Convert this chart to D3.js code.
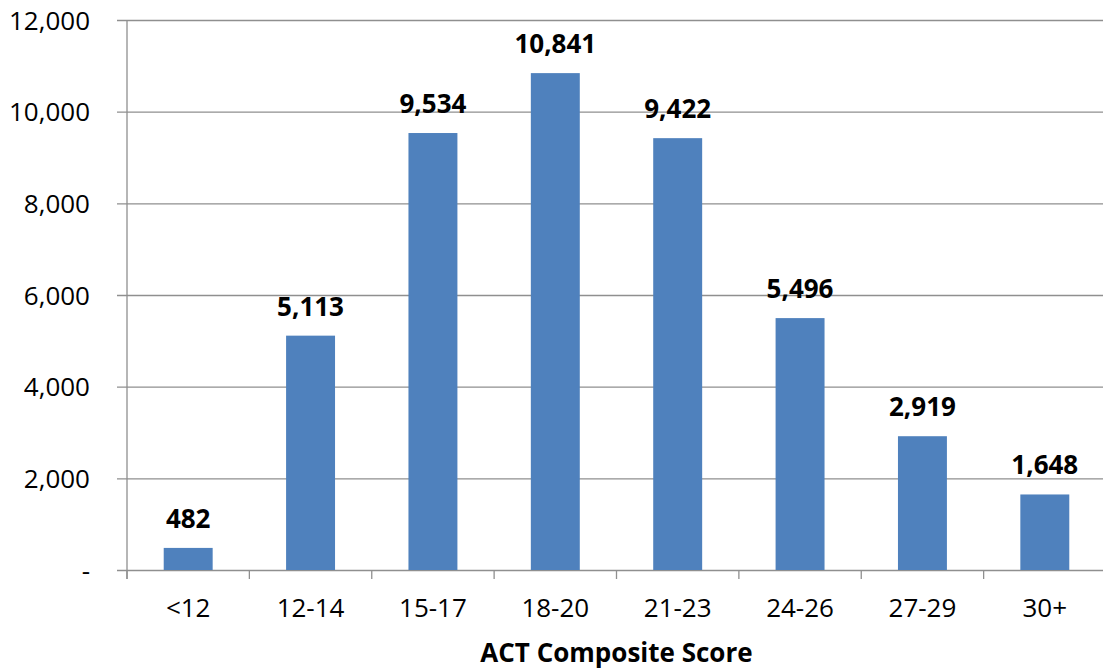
<!DOCTYPE html>
<html>
<head>
<meta charset="utf-8">
<script src="https://cdn.jsdelivr.net/npm/d3@7"></script>
<style>
  body { margin: 0; background: #fff; }
  svg text { font-family: "Open Sans", sans-serif; fill: #000; }
</style>
</head>
<body>
<div id="chart"></div>
<script>
var categories = ['<12', '12-14', '15-17', '18-20', '21-23', '24-26', '27-29', '30+']
var counts = [482, 5113, 9534, 10841, 9422, 5496, 2919, 1648]
var yTicks = [0, 2000, 4000, 6000, 8000, 10000, 12000]
var xTitle = 'ACT Composite Score'

var width = 1103, height = 670
var margin = {left: 127, right: -3, top: 20, bottom: 100}
var innerW = width - margin.left - margin.right
var innerH = height - margin.top - margin.bottom

var svg = d3.select('#chart').append('svg')
  .attr('width', width).attr('height', height)

var g = svg.append('g').attr('transform', 'translate(' + margin.left + ',' + margin.top + ')')

var x = d3.scaleBand().domain(categories).range([0, innerW]).paddingInner(0.6).paddingOuter(0.3)
var y = d3.scaleLinear().domain([0, 12000]).range([innerH, 0])

var fmt = d3.format(',')
var gridColor = '#8f8f8f'
var fs = '26px'

// horizontal gridlines + y labels
var yAxis = d3.axisLeft(y).tickValues(yTicks).tickSize(-innerW - 10)
  .tickFormat(function(d){ return d === 0 ? '-' : fmt(d) })
var yg = g.append('g').attr('transform', 'translate(' + (-10) + ',0)').call(yAxis)
yg.select('.domain').remove()
yg.selectAll('.tick line').attr('x1', 0).attr('x2', innerW + 10).attr('stroke', gridColor).attr('stroke-width', 1.3)
yg.selectAll('.tick text').attr('x', -27).attr('dy', '0.35em')
  .style('font-size', fs).style('font-family', '"Open Sans", sans-serif').attr('fill', '#000')

// vertical axis line
g.append('line').attr('x1', 0).attr('x2', 0).attr('y1', 0).attr('y2', innerH + 9)
  .attr('stroke', gridColor).attr('stroke-width', 1.3)

// x-axis ticks between categories
var bounds = d3.range(categories.length + 1).map(function(i){ return i * innerW / categories.length })
g.selectAll('line.xtick').data(bounds).enter().append('line')
  .attr('class', 'xtick')
  .attr('x1', function(d){ return d }).attr('x2', function(d){ return d })
  .attr('y1', innerH).attr('y2', innerH + 9)
  .attr('stroke', gridColor).attr('stroke-width', 1.3)

// bars
g.selectAll('rect.bar').data(counts).enter().append('rect')
  .attr('class', 'bar')
  .attr('x', function(d, i){ return x(categories[i]) })
  .attr('width', x.bandwidth())
  .attr('y', function(d){ return y(d) })
  .attr('height', function(d){ return innerH - y(d) })
  .attr('fill', '#4f81bd')

// value labels
g.selectAll('text.val').data(counts).enter().append('text')
  .attr('class', 'val')
  .attr('x', function(d, i){ return x(categories[i]) + x.bandwidth() / 2 })
  .attr('y', function(d){ return y(d) - 20 })
  .attr('text-anchor', 'middle')
  .style('font-size', fs).style('font-weight', 'bold')
  .text(function(d){ return fmt(d) })

// category labels
g.selectAll('text.cat').data(categories).enter().append('text')
  .attr('class', 'cat')
  .attr('x', function(d){ return x(d) + x.bandwidth() / 2 })
  .attr('y', innerH + 47)
  .attr('text-anchor', 'middle')
  .style('font-size', fs)
  .text(function(d){ return d })

// axis title
g.append('text')
  .attr('x', innerW / 2).attr('y', innerH + 92)
  .attr('text-anchor', 'middle')
  .style('font-size', fs).style('font-weight', 'bold')
  .text(xTitle)
</script>
</body>
</html>
